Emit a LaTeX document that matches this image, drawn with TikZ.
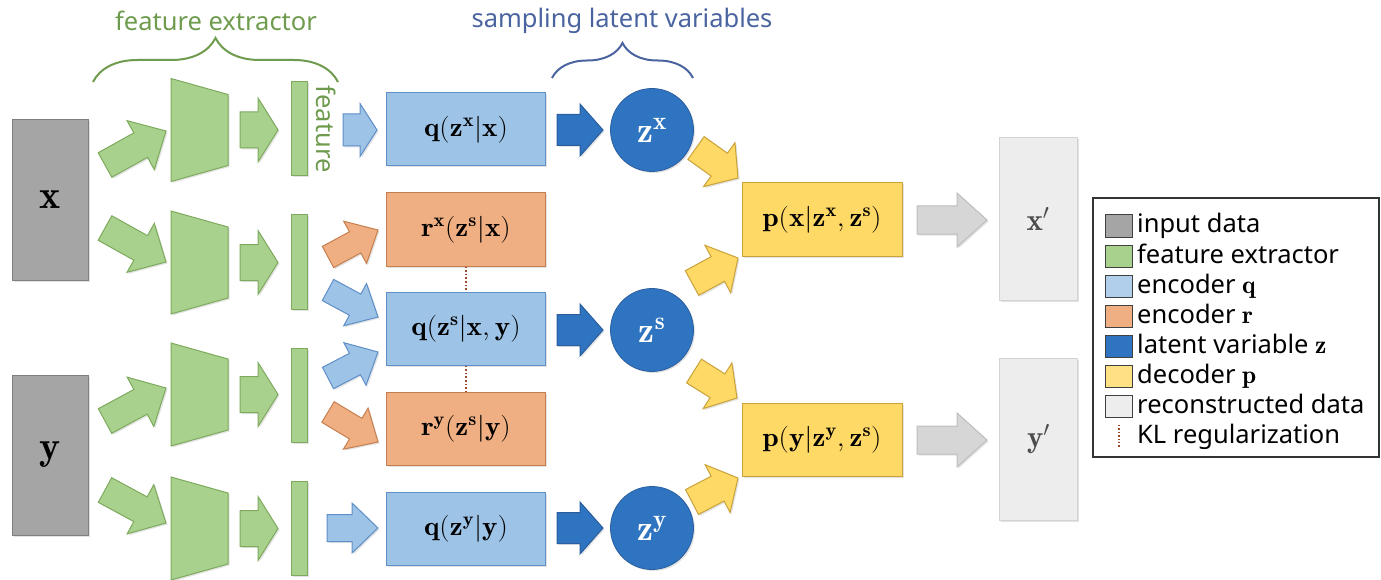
\RequirePackage{fix-cm}
\documentclass[tikz,border=0pt]{standalone}
\usepackage{fontspec}
\usepackage{graphicx}
\usetikzlibrary{calc,shadows,decorations.pathreplacing}
\newfontfamily\sansf{Noto Sans}
\definecolor{cGray}{HTML}{A6A5A6}
\definecolor{cGrayD}{HTML}{7F7F7F}
\definecolor{cGreen}{HTML}{A9D18E}
\definecolor{cGreenD}{HTML}{7DAA5C}
\definecolor{cBlue}{HTML}{9DC3E6}
\definecolor{cBlueD}{HTML}{5E8FC8}
\definecolor{cOrange}{HTML}{F0AF82}
\definecolor{cOrangeD}{HTML}{C57F4E}
\definecolor{cDark}{HTML}{2E74C0}
\definecolor{cDarkD}{HTML}{2A5E9E}
\definecolor{cYellow}{HTML}{FFD966}
\definecolor{cYellowD}{HTML}{C9A23A}
\definecolor{cLight}{HTML}{EDEDED}
\definecolor{cLightD}{HTML}{D3D3D3}
\definecolor{cArrGray}{HTML}{D6D6D6}
\definecolor{cArrGrayD}{HTML}{BDBDBD}
\definecolor{cKL}{HTML}{9B4A2A}
\definecolor{cTitleG}{HTML}{6E9B4E}
\definecolor{cTitleB}{HTML}{4A64A0}
\newcommand{\blkarrow}[6]{%
  \path ($(#3)!#6!(#2)$) coordinate (bah);
  \draw[#1] ($(#2)!#4!90:(#3)$) -- ($(bah)!#4!90:(#3)$) -- ($(bah)!#5!90:(#3)$) -- (#3)
    -- ($(bah)!#5!-90:(#3)$) -- ($(bah)!#4!-90:(#3)$) -- ($(#2)!#4!-90:(#3)$) -- cycle;
}
\newcommand{\trapez}[2]{%
  \draw[trap] (171,#2-51.5) -- (228,#2-35.5) -- (228,#2+35.5) -- (171,#2+51.5) -- cycle;
  \coordinate (#1l) at (171,#2);
  \coordinate (#1r) at (228,#2);
}
\begin{document}
\begin{tikzpicture}[x=1pt,y=-1pt,
  shad/.style={drop shadow={opacity=0.22,shadow xshift=1.5pt,shadow yshift=-1.5pt}},
  mtext/.style={font=\fontsize{27}{32}\selectfont},
  inbox/.style={draw=cGrayD,fill=cGray,line width=1pt,minimum width=76pt,minimum height=160pt,inner sep=0pt,shad,font=\fontsize{40}{42}\selectfont},
  trap/.style={draw=cGreenD,fill=cGreen,line width=1pt,shad},
  fbar/.style={draw=cGreenD,fill=cGreen,line width=1pt,minimum width=16pt,minimum height=94pt,inner sep=0pt,shad},
  qbox/.style={draw=cBlueD,fill=cBlue,line width=1pt,minimum width=159pt,minimum height=73pt,inner sep=0pt,shad,mtext},
  rbox/.style={draw=cOrangeD,fill=cOrange,line width=1pt,minimum width=159pt,minimum height=73pt,inner sep=0pt,shad,mtext},
  zc/.style={circle,draw=cDarkD,fill=cDark,line width=0.8pt,minimum size=83pt,inner sep=0pt,shad,text=white,font=\fontsize{36}{38}\selectfont},
  pbox/.style={draw=cYellowD,fill=cYellow,line width=1pt,minimum width=160pt,minimum height=73pt,inner sep=0pt,shad,mtext},
  recbox/.style={draw=cLightD,fill=cLight,line width=1pt,minimum width=78pt,minimum height=162pt,inner sep=0pt,shad,text=black!70,font=\fontsize{31}{33}\selectfont},
  garr/.style={draw=cGreenD,fill=cGreen,line width=1pt,shad},
  barr/.style={draw=cBlueD,fill=cBlue,line width=1pt,shad},
  oarr/.style={draw=cOrangeD,fill=cOrange,line width=1pt,shad},
  darr/.style={draw=cDarkD,fill=cDark,line width=1pt,shad},
  yarr/.style={draw=cYellowD,fill=cYellow,line width=1pt,shad},
  grarr/.style={draw=cArrGrayD,fill=cArrGray,line width=1pt,shad},
  kl/.style={draw=cKL,dotted,line width=1.6pt},
  title/.style={font=\sansf\fontsize{25.5}{30}\selectfont},
  legsq/.style={draw=black!75,line width=1pt,minimum width=27pt,minimum height=22pt,inner sep=0pt},
  legtxt/.style={anchor=west,inner sep=0pt,font=\sansf\fontsize{25.5}{29}\selectfont,text height=19pt,text depth=5pt},
]
\useasboundingbox (0,0) rectangle (1381,580);

% titles and braces
\node[title,text=cTitleG] (tfe) at (216,21) {feature extractor};
\node[title,text=cTitleB] (tsl) at (622,21) {sampling latent variables};
\draw[cTitleG,line width=2pt,decorate,decoration={brace,amplitude=44pt}] (93,82) -- (338,82);
\draw[cTitleB,line width=2pt,decorate,decoration={brace,amplitude=35pt}] (552,78) -- (693,78);
\node[title,text=cTitleG,rotate=-90] (tfeat) at (326,129) {feature};

% input data
\node[inbox] (X) at (50,200) {$\mathbf{x}$};
\node[inbox] (Y) at (50,455) {$\mathbf{y}$};

% feature extractors
\trapez{t1}{130}
\trapez{t2}{262.5}
\trapez{t3}{394.5}
\trapez{t4}{528.5}
\node[fbar] (b1) at (299,129) {};
\node[fbar] (b2) at (299,262) {};
\node[fbar] (b3) at (299,395) {};
\node[fbar] (b4) at (299,528.5) {};

% encoders
\node[qbox] (qx) at (466,129.5) {\scalebox{1.08}[1]{$\mathbf{q}(\mathbf{z}^{\mathbf{x}}|\mathbf{x})$}};
\node[rbox] (rx) at (466,229.5) {\scalebox{1.08}[1]{$\mathbf{r}^{\mathbf{x}}(\mathbf{z}^{\mathbf{s}}|\mathbf{x})$}};
\node[qbox] (qs) at (466,328.5) {\scalebox{1.08}[1]{$\mathbf{q}(\mathbf{z}^{\mathbf{s}}|\mathbf{x},\mathbf{y})$}};
\node[rbox] (ry) at (466,428.5) {\scalebox{1.08}[1]{$\mathbf{r}^{\mathbf{y}}(\mathbf{z}^{\mathbf{s}}|\mathbf{y})$}};
\node[qbox] (qy) at (466,528.5) {\scalebox{1.08}[1]{$\mathbf{q}(\mathbf{z}^{\mathbf{y}}|\mathbf{y})$}};
\draw[kl] (rx.south) -- (qs.north);
\draw[kl] (qs.south) -- (ry.north);

% latent variables
\node[zc] (zx) at (652,130) {$\mathbf{z}^{\mathbf{x}}$};
\node[zc] (zs) at (652,330) {$\mathbf{z}^{\mathbf{s}}$};
\node[zc] (zy) at (652,528) {$\mathbf{z}^{\mathbf{y}}$};

% decoders
\node[pbox] (px) at (822,219.5) {\scalebox{1.08}[1]{$\mathbf{p}(\mathbf{x}|\mathbf{z}^{\mathbf{x}},\mathbf{z}^{\mathbf{s}})$}};
\node[pbox] (py) at (822,439.5) {\scalebox{1.08}[1]{$\mathbf{p}(\mathbf{y}|\mathbf{z}^{\mathbf{y}},\mathbf{z}^{\mathbf{s}})$}};

% reconstructed
\node[recbox] (xr) at (1038,219) {$\mathbf{x}'$};
\node[recbox] (yr) at (1038.5,439) {$\mathbf{y}'$};

% arrow end points
\coordinate (ia1) at (105,165); \coordinate (ib1) at (166,131);
\coordinate (ia2) at (105,228); \coordinate (ib2) at (166,262);
\coordinate (ia3) at (105,421); \coordinate (ib3) at (166,388);
\coordinate (ia4) at (105,490); \coordinate (ib4) at (166,523);
\foreach \i/\y in {1/130,2/262.5,3/394.5,4/528.5}{
  \coordinate (ga\i) at (240,\y); \coordinate (gb\i) at (278,\y);
}
\coordinate (fa1) at (343,130); \coordinate (fb1) at (377,130);
\coordinate (fa2) at (328,257); \coordinate (fb2) at (378,230);
\coordinate (fa3) at (328,290); \coordinate (fb3) at (378,317);
\coordinate (fa4) at (328,378); \coordinate (fb4) at (378,352);
\coordinate (fa5) at (328,412); \coordinate (fb5) at (378,442);
\coordinate (fa6) at (327,528); \coordinate (fb6) at (378,528);
\coordinate (da1) at (557,130); \coordinate (db1) at (603,130);
\coordinate (da2) at (557,330); \coordinate (db2) at (603,330);
\coordinate (da3) at (557,528); \coordinate (db3) at (603,528);
\coordinate (ya1) at (696,148); \coordinate (yb1) at (738,178);
\coordinate (ya2) at (692,283); \coordinate (yb2) at (738,258);
\coordinate (ya3) at (694,371); \coordinate (yb3) at (737,398);
\coordinate (ya4) at (692,502); \coordinate (yb4) at (738,478);
\coordinate (ra1) at (917,220); \coordinate (rb1) at (987,220);
\coordinate (ra2) at (917,440); \coordinate (rb2) at (987,440);

% input -> extractor
\foreach \i in {1,...,4}{\blkarrow{garr}{ia\i}{ib\i}{14pt}{28pt}{29pt}}
% extractor -> feature
\foreach \i in {1,...,4}{\blkarrow{garr}{ga\i}{gb\i}{18pt}{32pt}{20pt}}
% feature -> encoders
\blkarrow{barr}{fa1}{fb1}{16pt}{26.5pt}{17pt}
\blkarrow{oarr}{fa2}{fb2}{12pt}{24pt}{26pt}
\blkarrow{barr}{fa3}{fb3}{12pt}{24pt}{26pt}
\blkarrow{barr}{fa4}{fb4}{12pt}{24pt}{26pt}
\blkarrow{oarr}{fa5}{fb5}{12pt}{24pt}{26pt}
\blkarrow{barr}{fa6}{fb6}{13.5pt}{25pt}{26pt}
% encoders -> latent
\foreach \i in {1,2,3}{\blkarrow{darr}{da\i}{db\i}{15.5pt}{26pt}{23pt}}
% latent -> decoders
\foreach \i in {1,...,4}{\blkarrow{yarr}{ya\i}{yb\i}{14pt}{27pt}{23pt}}
% decoders -> reconstructed
\foreach \i in {1,2}{\blkarrow{grarr}{ra\i}{rb\i}{14pt}{27pt}{30pt}}

% legend
\draw[black!80,line width=1.2pt] (1093,198) rectangle (1379,457);
\node[legsq,fill=cGray] (l1) at (1119,226) {};
\node[legtxt] (lt1) at (1137,226) {input data};
\node[legsq,fill=cGreen] (l2) at (1119,256) {};
\node[legtxt] (lt2) at (1137,256) {feature extractor};
\node[legsq,fill=cBlue!80!white] (l3) at (1119,286) {};
\node[legtxt] (lt3) at (1137,286) {encoder $\mathbf{q}$};
\node[legsq,fill=cOrange] (l4) at (1119,316) {};
\node[legtxt] (lt4) at (1137,316) {encoder $\mathbf{r}$};
\node[legsq,fill=cDark] (l5) at (1119,346) {};
\node[legtxt] (lt5) at (1137,346) {latent variable $\mathbf{z}$};
\node[legsq,fill=cYellow!80!white] (l6) at (1119,376) {};
\node[legtxt] (lt6) at (1137,376) {decoder $\mathbf{p}$};
\node[legsq,fill=cLight] (l7) at (1119,406) {};
\node[legtxt] (lt7) at (1137,406) {reconstructed data};
\coordinate (kla) at (1119,425); \coordinate (klb) at (1119,447);
\draw[kl,line width=1.4pt] (kla) -- (klb);
\node[legtxt] (lt8) at (1137,436) {KL regularization};
\end{tikzpicture}
\end{document}
